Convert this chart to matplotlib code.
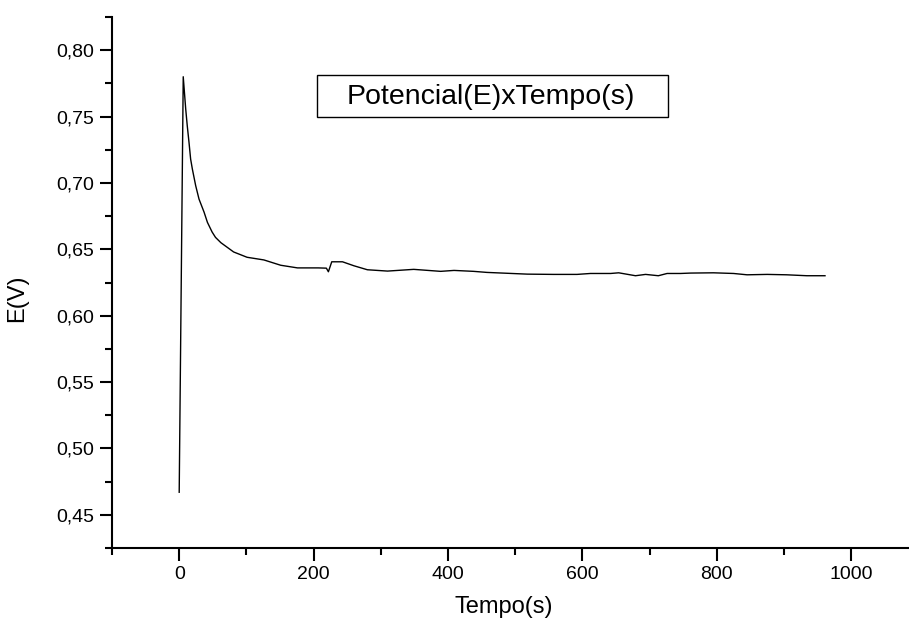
import matplotlib
matplotlib.use("Agg")
import matplotlib.pyplot as plt
from matplotlib.patches import Rectangle
from matplotlib.ticker import MultipleLocator, FuncFormatter

plt.rcParams["font.family"] = ["Liberation Sans", "DejaVu Sans"]

# open-circuit potential vs time
tempo = [0, 6, 9.7, 12, 14.6, 17, 19.6, 24.5, 29.5, 37, 42, 49, 54, 62, 81,
         101, 126, 151, 176, 207, 219, 222, 227, 243, 260, 280, 310, 349,
         389, 409, 438, 458, 518, 557, 592, 612, 642, 654, 679, 694, 713,
         726, 746, 761, 795, 825, 845, 875, 904, 934, 961]
potencial = [0.467, 0.780, 0.7556, 0.743, 0.7305, 0.718, 0.7104, 0.698,
             0.6878, 0.678, 0.6703, 0.663, 0.659, 0.655, 0.648, 0.644, 0.642,
             0.638, 0.636, 0.636, 0.6358, 0.6331, 0.6406, 0.6406, 0.6376,
             0.6346, 0.6336, 0.6349, 0.6334, 0.6341, 0.6334, 0.6326, 0.6313,
             0.6311, 0.6311, 0.6318, 0.6318, 0.6323, 0.6301, 0.6311, 0.6301,
             0.6318, 0.6318, 0.6321, 0.6323, 0.6318, 0.6308, 0.6311, 0.6308,
             0.6301, 0.6301]

fig = plt.figure(figsize=(9.09, 6.32), dpi=100)
ax = fig.add_axes([112 / 909, 84 / 632, 797 / 909, 531 / 632])

ax.plot(tempo, potencial, color="black", linewidth=1.0)

ax.set_xlim(-100, 1086)
ax.set_ylim(0.425, 0.825)

for side in ("top", "right"):
    ax.spines[side].set_visible(False)
for side in ("left", "bottom"):
    ax.spines[side].set_linewidth(1.5)

ax.xaxis.set_major_locator(MultipleLocator(200))
ax.xaxis.set_minor_locator(MultipleLocator(100))
ax.yaxis.set_major_locator(MultipleLocator(0.05))
ax.yaxis.set_minor_locator(MultipleLocator(0.025))
ax.yaxis.set_major_formatter(FuncFormatter(lambda v, p: f"{v:.2f}".replace(".", ",")))

ax.tick_params(which="major", direction="out", length=9, width=1.5, labelsize=14, pad=4)
ax.tick_params(which="minor", direction="out", length=5, width=1.5)

ax.set_xlabel("Tempo(s)", fontsize=17)
ax.set_ylabel("E(V)", fontsize=17)
ax.xaxis.set_label_coords(0.492, -0.09)
ax.yaxis.set_label_coords(-0.105, 0.47)

box = Rectangle((317 / 909, 515 / 632), 351 / 909, 42 / 632, transform=fig.transFigure,
                facecolor="white", edgecolor="black", linewidth=1.0)
fig.patches.append(box)
fig.text(491 / 909, 535 / 632, "Potencial(E)xTempo(s)", fontsize=20.5,
         ha="center", va="center")

fig.savefig("out.png", dpi=100)
